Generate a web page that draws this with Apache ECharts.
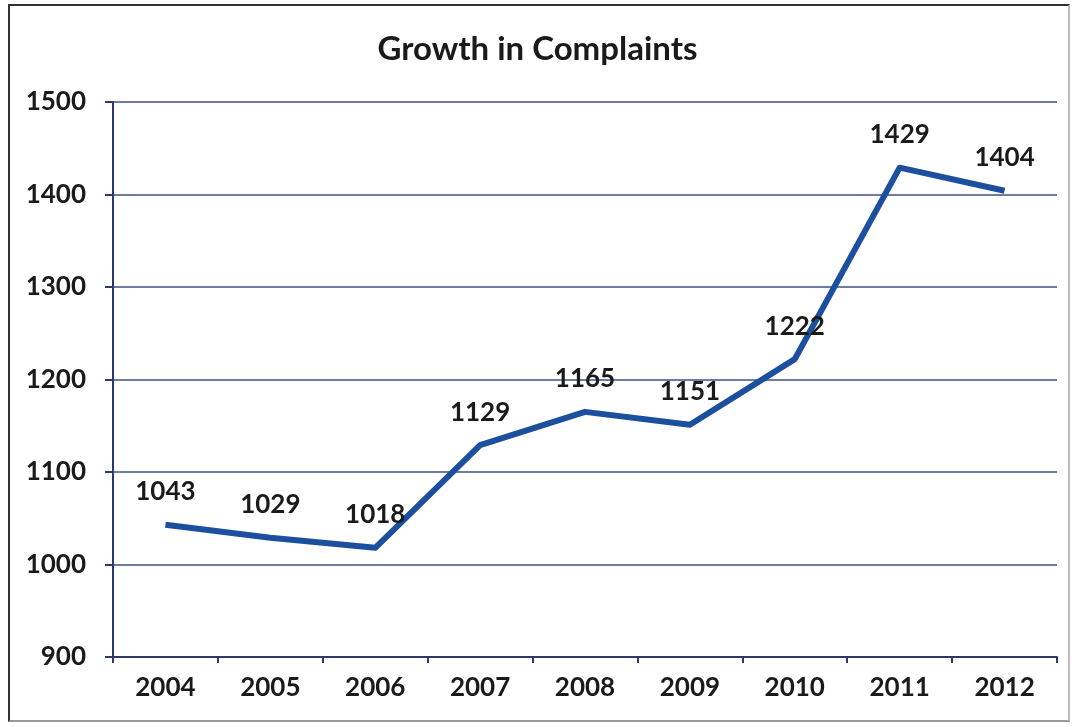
<!DOCTYPE html>
<html>
<head>
<meta charset="utf-8">
<style>
  html, body { margin: 0; padding: 0; background: #fff; }
  #frame { position: absolute; left: 8px; top: 4px; width: 1062px; height: 718px; border: 2px solid #333; border-right-color: #bbb; border-bottom-color: #999; box-sizing: border-box; }
  #chart { position: absolute; left: 0; top: 0; width: 1075px; height: 727px; }
</style>
<script src="https://cdn.jsdelivr.net/npm/echarts@6/dist/echarts.min.js"></script>
</head>
<body>
<div id="frame"></div>
<div id="chart"></div>
<script>
// Annual complaint counts
const years = ['2004', '2005', '2006', '2007', '2008', '2009', '2010', '2011', '2012'];
const complaints = [1043, 1029, 1018, 1129, 1165, 1151, 1222, 1429, 1404];

const FONT = 'Lato, "Open Sans", sans-serif';
const chart = echarts.init(document.getElementById('chart'), null, { renderer: 'canvas' });

chart.setOption({
  backgroundColor: 'transparent',
  animation: false,
  title: {
    text: 'Growth in Complaints',
    left: 'center',
    top: 28,
    textStyle: { fontFamily: FONT, fontWeight: 'bold', fontSize: 33, color: '#1a1a1a' }
  },
  grid: { left: 113, right: 18, top: 102, bottom: 70 },
  xAxis: {
    type: 'category',
    data: years,
    boundaryGap: true,
    axisLine: { lineStyle: { color: '#2b3a6b', width: 2 } },
    axisTick: { show: true, length: 6, lineStyle: { color: '#2b3a6b', width: 2 } },
    axisLabel: { fontFamily: FONT, fontWeight: 'bold', fontSize: 26, color: '#1a1a1a', margin: 18 }
  },
  yAxis: {
    type: 'value',
    min: 900,
    max: 1500,
    interval: 100,
    axisLine: { show: true, lineStyle: { color: '#2b3a6b', width: 2 } },
    axisTick: { show: true, inside: false, length: 8, lineStyle: { color: '#2b3a6b', width: 2 } },
    splitLine: { lineStyle: { color: '#3d5080', width: 1.5 } },
    axisLabel: {
      fontFamily: FONT, fontWeight: 'bold', fontSize: 26, color: '#1a1a1a', margin: 27,
      formatter: v => String(v)
    }
  },
  series: [{
    type: 'line',
    data: complaints,
    symbol: 'circle',
    symbolSize: 2,
    showSymbol: true,
    itemStyle: { color: 'rgba(0,0,0,0)', borderWidth: 0 },
    lineStyle: { color: '#1c4f9e', width: 6, join: 'round' },
    label: {
      show: true,
      position: 'top',
      distance: 19,
      fontFamily: FONT,
      fontWeight: 'bold',
      fontSize: 26,
      color: '#1a1a1a'
    }
  }]
});
</script>
</body>
</html>
